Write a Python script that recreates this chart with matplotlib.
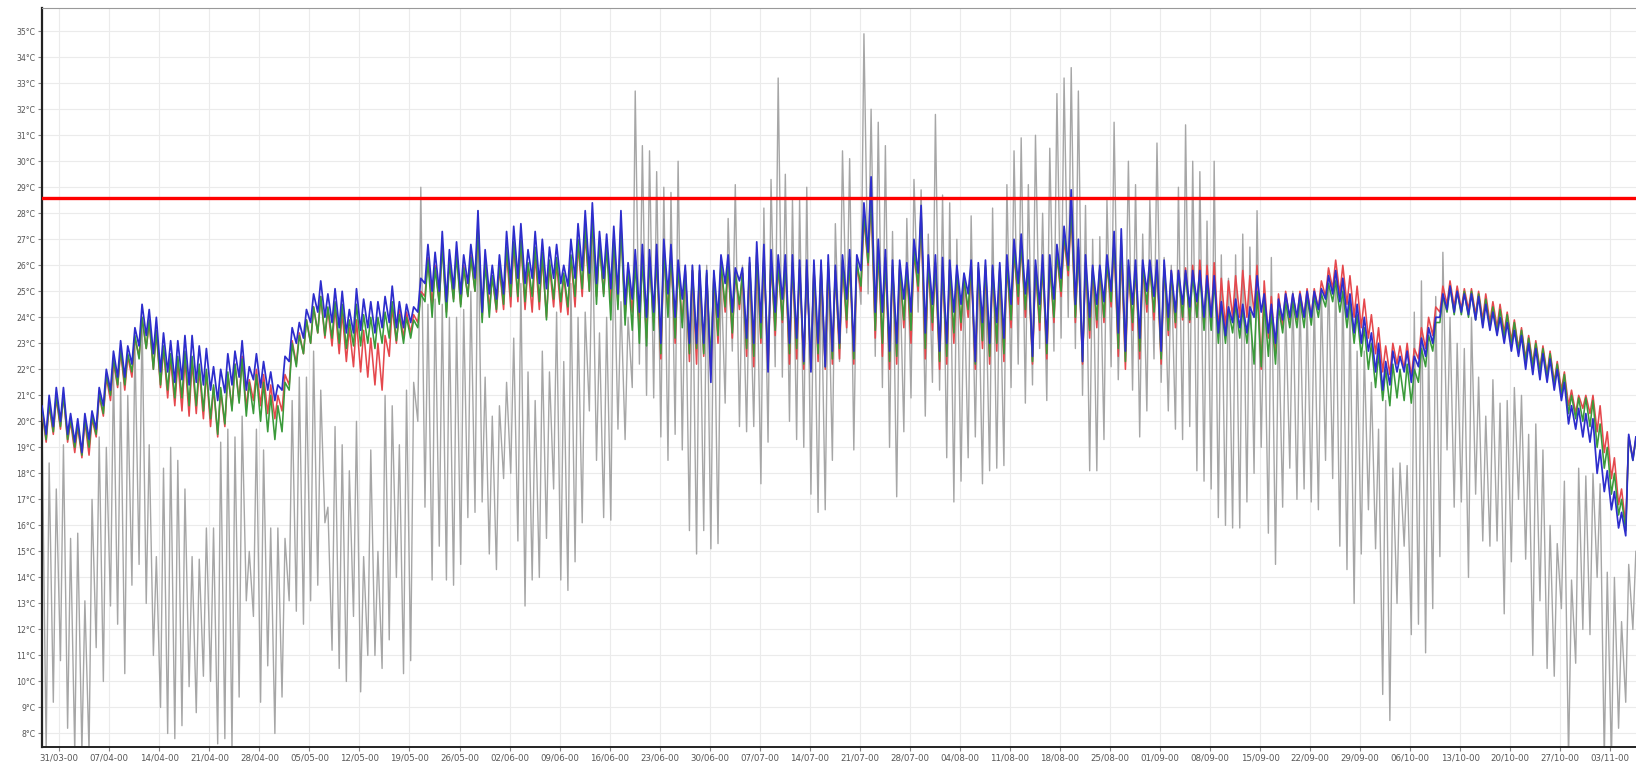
import pandas as pd
import numpy as np
import matplotlib
matplotlib.use('Agg')
import matplotlib.pyplot as plt
import matplotlib.dates as mdates

# one value per day, starting 28/03/2000 (lows ~04:00, highs ~14:00)
first_day = '2000-03-28'

outdoor_low = [
    12.0, 7.3, 9.2, 10.8, 8.2, 7.3, 7.3,
    7.3, 11.3, 10.0, 12.9, 12.2, 10.3, 13.7,
    14.5, 13.0, 11.0, 9.0, 8.0, 7.8, 8.3,
    9.8, 8.8, 10.2, 10.0, 7.6, 7.8, 7.4,
    9.4, 13.1, 12.5, 9.2, 10.6, 8.0, 9.4,
    13.1, 12.7, 12.2, 13.1, 13.7, 16.1, 11.2,
    10.5, 10.0, 12.5, 9.6, 11.0, 11.0, 10.5,
    11.6, 14.0, 10.3, 10.8, 20.0, 16.7, 13.9,
    15.2, 13.9, 13.7, 14.5, 16.3, 16.5, 16.9,
    14.9, 14.3, 17.8, 18.0, 15.4, 12.9, 13.9,
    14.0, 15.5, 17.4, 13.9, 13.5, 14.6, 16.1,
    20.4, 18.5, 16.3, 16.2, 19.7, 19.3, 21.3,
    22.2, 21.0, 20.9, 19.4, 18.5, 19.5, 18.9,
    15.8, 14.9, 15.8, 15.1, 15.3, 20.7, 22.7,
    19.8, 19.6, 19.8, 17.6, 19.2, 22.1, 21.7,
    20.0, 19.3, 19.0, 17.2, 16.5, 16.6, 18.5,
    22.3, 23.4, 18.9, 24.5, 24.9, 22.5, 21.3,
    19.0, 17.1, 19.6, 20.9, 24.2, 20.2, 21.5,
    21.2, 18.6, 16.9, 17.7, 18.6, 19.4, 17.6,
    18.1, 18.2, 18.3, 21.3, 22.2, 20.7, 21.4,
    22.8, 20.8, 22.7, 23.2, 24.0, 22.8, 21.0,
    18.1, 18.1, 19.3, 22.1, 21.6, 23.0, 21.2,
    19.4, 20.4, 22.4, 21.5, 20.4, 19.7, 19.3,
    19.8, 18.1, 17.7, 17.4, 16.3, 16.0, 15.9,
    15.9, 16.9, 18.0, 19.0, 15.7, 14.5, 16.7,
    18.2, 17.0, 17.4, 16.9, 16.6, 18.5, 17.8,
    15.2, 14.3, 13.0, 14.9, 16.6, 15.1, 9.5,
    8.5, 13.0, 15.2, 11.8, 12.2, 11.1, 12.8,
    14.8, 18.9, 16.7, 16.9, 14.0, 17.2, 15.4,
    15.2, 15.4, 12.6, 14.6, 17.0, 14.7, 11.0,
    13.1, 10.5, 10.2, 12.8, 7.0, 10.7, 12.0,
    11.8, 14.0, 7.0, 7.0, 8.2, 9.2, 12.0,
]
outdoor_high = [
    20.0, 18.4, 17.4, 19.1, 15.5, 15.7, 13.1,
    17.0, 19.4, 19.0, 22.0, 21.5, 21.0, 23.0,
    24.0, 19.1, 14.8, 18.2, 19.0, 18.5, 17.4,
    14.8, 14.7, 15.9, 15.9, 19.2, 19.7, 19.4,
    20.2, 15.0, 19.7, 18.9, 15.9, 15.9, 15.5,
    20.8, 21.7, 21.7, 22.7, 21.2, 16.7, 19.8,
    19.1, 18.1, 20.0, 14.8, 18.9, 15.0, 21.0,
    20.6, 19.1, 21.2, 21.5, 29.0, 24.5, 24.7,
    24.5, 24.0, 24.0, 24.3, 25.0, 28.1, 21.7,
    20.2, 20.6, 21.5, 23.2, 25.3, 21.9, 20.8,
    22.7, 21.9, 24.2, 22.3, 25.3, 24.0, 24.2,
    27.5, 23.4, 24.0, 26.8, 24.6, 24.0, 32.7,
    30.6, 30.4, 29.6, 29.0, 28.8, 30.0, 26.0,
    26.0, 25.8, 26.0, 25.8, 25.8, 27.8, 29.1,
    26.0, 26.0, 26.2, 28.2, 29.3, 33.2, 29.5,
    28.5, 28.5, 29.0, 26.0, 25.8, 26.0, 27.6,
    30.4, 30.1, 26.4, 34.9, 32.0, 31.5, 30.6,
    27.3, 26.0, 27.8, 29.3, 28.9, 27.2, 31.8,
    28.7, 28.4, 27.0, 25.5, 27.9, 26.0, 25.8,
    28.2, 26.0, 29.1, 30.4, 30.9, 29.1, 31.0,
    28.0, 30.5, 32.6, 33.2, 33.6, 32.7, 28.3,
    27.0, 27.1, 28.5, 31.5, 26.2, 30.0, 29.1,
    27.2, 28.5, 30.7, 26.3, 26.0, 29.0, 31.4,
    30.0, 29.6, 27.7, 30.0, 26.4, 25.5, 26.4,
    27.2, 26.7, 28.1, 25.0, 26.3, 24.0, 24.4,
    25.0, 24.8, 24.5, 24.8, 25.0, 25.8, 25.8,
    25.5, 24.6, 22.7, 22.7, 21.5, 19.7, 20.8,
    18.2, 18.4, 18.3, 24.2, 25.4, 23.0, 24.8,
    26.5, 24.0, 23.0, 22.8, 24.0, 21.7, 20.2,
    21.6, 20.7, 20.8, 21.3, 21.0, 19.5, 19.9,
    18.9, 16.0, 15.3, 17.7, 13.9, 18.2, 17.9,
    18.0, 17.6, 14.2, 14.0, 12.3, 14.5, 15.0,
]

red_low = [
    19.3, 19.2, 19.5, 19.7, 19.2, 18.8, 18.6,
    18.7, 19.4, 20.2, 20.8, 21.3, 21.2, 21.7,
    22.5, 22.8, 22.0, 21.3, 20.9, 20.6, 20.4,
    20.2, 20.3, 20.1, 19.8, 19.4, 19.8, 20.5,
    20.8, 20.5, 20.8, 20.6, 20.3, 20.1, 20.4,
    21.4, 22.2, 22.6, 23.0, 23.4, 23.2, 22.9,
    22.6, 22.3, 22.1, 21.9, 21.7, 21.4, 21.2,
    22.5, 23.0, 23.2, 23.4, 23.8, 24.8, 24.5,
    24.6, 24.2, 24.7, 24.5, 24.8, 25.0, 24.0,
    24.3, 24.2, 24.3, 24.4, 24.6, 24.3, 24.2,
    24.3, 24.0, 24.4, 24.2, 24.1, 24.4, 24.8,
    25.0, 24.8, 24.9, 24.6, 24.5, 24.1, 24.2,
    23.6, 23.2, 23.8, 22.4, 24.2, 23.0, 23.8,
    22.3, 22.2, 22.5, 21.8, 23.0, 24.2, 23.2,
    24.3, 22.5, 22.1, 23.0, 22.0, 23.3, 23.8,
    22.2, 22.4, 22.0, 22.0, 22.3, 22.0, 22.2,
    22.4, 23.6, 22.2, 25.0, 26.0, 23.2, 22.5,
    22.0, 22.2, 23.6, 23.0, 25.0, 22.4, 23.5,
    22.0, 22.2, 23.0, 23.5, 24.0, 22.0, 22.8,
    22.2, 22.7, 22.3, 23.6, 24.5, 24.0, 22.2,
    23.5, 22.4, 23.8, 24.8, 25.6, 23.8, 22.2,
    23.2, 23.6, 23.8, 24.4, 22.5, 22.0, 23.5,
    22.4, 24.2, 23.9, 22.2, 23.3, 23.6, 23.9,
    23.8, 24.0, 23.6, 23.8, 23.5, 23.6, 24.0,
    24.0, 24.0, 24.2, 22.0, 23.2, 22.6, 23.6,
    23.9, 23.9, 24.0, 24.0, 24.3, 24.8, 25.1,
    24.9, 24.5, 24.0, 23.6, 23.2, 22.6, 21.9,
    21.8, 22.2, 22.0, 21.7, 22.4, 22.8, 23.3,
    24.2, 24.5, 24.4, 24.3, 24.3, 24.1, 23.9,
    23.8, 23.6, 23.4, 23.1, 22.8, 22.4, 22.2,
    22.0, 21.8, 21.5, 21.2, 20.6, 20.3, 20.5,
    20.3, 19.6, 18.8, 17.8, 16.8, 16.0, 18.6,
]
red_high = [
    20.4, 20.6, 20.9, 21.0, 20.0, 19.8, 20.0,
    20.1, 21.0, 21.7, 22.3, 22.7, 22.5, 23.2,
    24.0, 23.8, 23.4, 22.8, 22.4, 22.3, 22.4,
    22.3, 22.0, 21.9, 21.3, 21.2, 21.8, 22.2,
    22.5, 21.6, 22.0, 21.8, 21.4, 21.0, 21.8,
    23.1, 23.4, 23.9, 24.4, 24.8, 24.3, 24.4,
    24.2, 23.6, 23.9, 23.5, 23.2, 23.0, 23.3,
    24.4, 24.3, 24.2, 24.1, 25.0, 26.3, 26.0,
    26.8, 26.2, 26.5, 26.0, 26.4, 27.6, 26.2,
    25.6, 25.9, 26.5, 26.8, 26.9, 26.0, 26.4,
    26.3, 26.0, 26.1, 25.6, 26.3, 26.8, 27.2,
    27.7, 26.8, 26.7, 27.0, 27.6, 25.8, 26.2,
    26.4, 26.2, 26.3, 26.5, 26.4, 25.9, 25.8,
    25.8, 25.7, 25.6, 25.6, 26.0, 26.0, 25.7,
    25.7, 26.0, 26.4, 26.3, 26.2, 26.0, 26.0,
    26.0, 25.9, 25.9, 25.9, 25.9, 26.0, 25.8,
    26.1, 26.2, 26.0, 27.8, 28.5, 26.6, 26.2,
    25.9, 25.9, 25.8, 26.5, 27.8, 26.0, 26.0,
    25.9, 25.8, 25.7, 25.5, 25.9, 25.8, 25.9,
    25.8, 25.8, 26.0, 26.5, 26.8, 25.9, 25.9,
    26.0, 26.0, 26.4, 27.0, 28.0, 26.6, 26.0,
    25.8, 25.8, 26.0, 26.8, 26.8, 25.9, 25.9,
    25.9, 26.0, 26.0, 26.0, 25.8, 25.8, 25.9,
    26.0, 26.2, 26.0, 26.1, 25.5, 25.4, 25.6,
    25.8, 25.6, 26.0, 25.4, 24.8, 24.9, 25.0,
    24.9, 25.0, 25.1, 25.1, 25.4, 25.9, 26.2,
    26.0, 25.6, 25.2, 24.7, 24.1, 23.6, 22.9,
    23.0, 22.9, 23.0, 22.8, 23.6, 24.0, 24.4,
    25.2, 25.4, 25.2, 25.1, 25.1, 25.0, 24.9,
    24.6, 24.5, 24.2, 23.9, 23.6, 23.3, 23.1,
    22.9, 22.7, 22.3, 21.9, 21.2, 21.0, 21.0,
    21.0, 20.6, 19.6, 18.6, 17.4, 19.4, 19.3,
]

green_low = [
    19.4, 19.3, 19.6, 19.8, 19.3, 19.0, 18.7,
    19.0, 19.5, 20.3, 21.0, 21.4, 21.4, 21.9,
    22.4, 22.8, 22.0, 21.4, 21.2, 20.9, 20.9,
    20.6, 20.6, 20.4, 20.1, 19.5, 19.9, 20.4,
    20.7, 20.2, 20.3, 20.0, 19.6, 19.3, 19.6,
    21.2, 22.1, 22.6, 23.0, 23.4, 23.3, 23.2,
    23.0, 22.8, 22.9, 22.9, 23.0, 22.8, 23.0,
    23.2, 23.1, 23.0, 23.2, 23.6, 24.6, 24.0,
    24.5, 24.0, 24.6, 24.4, 24.8, 25.0, 23.8,
    24.0, 24.3, 24.5, 24.8, 24.8, 24.6, 24.8,
    24.6, 23.9, 24.7, 24.6, 24.4, 24.8, 25.1,
    25.0, 24.5, 24.8, 23.9, 24.3, 23.7, 23.5,
    23.0, 22.9, 23.5, 22.6, 24.0, 23.2, 23.6,
    22.6, 22.8, 22.6, 22.3, 23.3, 24.4, 23.4,
    24.5, 22.8, 22.5, 23.2, 22.3, 23.5, 23.9,
    22.6, 22.8, 22.2, 22.0, 22.6, 22.1, 22.4,
    22.8, 23.9, 22.4, 25.2, 26.1, 23.5, 23.0,
    22.3, 22.5, 23.9, 23.5, 25.2, 22.8, 23.8,
    22.3, 22.5, 23.4, 23.8, 24.3, 22.2, 23.1,
    22.5, 23.0, 22.6, 23.9, 24.8, 24.3, 22.3,
    23.8, 22.6, 24.0, 25.0, 25.8, 24.0, 22.3,
    23.5, 23.9, 24.0, 24.6, 22.8, 22.3, 23.8,
    22.7, 24.5, 24.2, 22.4, 23.5, 23.8, 24.0,
    23.9, 24.0, 23.5, 23.5, 23.0, 23.0, 23.4,
    23.2, 23.0, 22.2, 22.1, 22.5, 22.2, 23.4,
    23.6, 23.6, 23.6, 23.7, 24.0, 24.4, 24.6,
    24.2, 23.6, 23.0, 22.5, 22.0, 21.3, 20.8,
    20.6, 20.9, 20.8, 20.7, 21.5, 22.1, 22.7,
    23.8, 24.2, 24.1, 24.1, 24.0, 23.9, 23.7,
    23.6, 23.4, 23.2, 22.9, 22.7, 22.3, 22.1,
    21.9, 21.7, 21.4, 21.0, 20.3, 20.1, 20.0,
    19.8, 19.0, 18.2, 17.2, 16.4, 15.8, 18.5,
]
green_high = [
    20.5, 20.7, 21.0, 21.0, 20.1, 19.9, 20.1,
    20.2, 21.1, 21.8, 22.4, 22.8, 22.6, 23.3,
    24.0, 23.9, 23.5, 22.9, 22.6, 22.5, 22.7,
    22.5, 22.2, 22.0, 21.4, 21.3, 21.9, 22.2,
    22.4, 21.5, 21.8, 21.5, 21.0, 20.6, 21.5,
    23.0, 23.3, 23.9, 24.4, 24.8, 24.4, 24.6,
    24.5, 23.9, 24.5, 24.1, 24.0, 24.0, 24.2,
    24.6, 24.1, 24.0, 23.9, 24.9, 26.2, 25.9,
    26.8, 26.1, 26.4, 25.9, 26.3, 27.4, 26.1,
    25.6, 26.0, 26.7, 26.9, 27.0, 26.1, 26.7,
    26.5, 26.2, 26.3, 25.7, 26.4, 27.0, 27.5,
    27.8, 26.9, 26.8, 27.0, 27.5, 25.8, 26.2,
    26.4, 26.3, 26.4, 26.6, 26.5, 26.0, 25.8,
    25.8, 25.8, 25.7, 25.6, 26.1, 26.1, 25.7,
    25.7, 26.1, 26.5, 26.4, 26.3, 26.1, 26.1,
    26.1, 25.9, 26.0, 25.9, 26.0, 26.1, 25.8,
    26.2, 26.3, 26.1, 28.0, 28.8, 26.7, 26.3,
    26.0, 26.0, 25.9, 26.6, 28.0, 26.1, 26.1,
    26.0, 25.9, 25.8, 25.5, 26.0, 25.9, 26.0,
    25.9, 25.9, 26.1, 26.6, 26.9, 26.0, 26.0,
    26.1, 26.1, 26.5, 27.2, 28.3, 26.7, 26.1,
    25.9, 25.9, 26.1, 27.0, 27.0, 26.0, 26.0,
    26.0, 26.0, 26.1, 26.0, 25.7, 25.7, 25.7,
    25.6, 25.7, 25.4, 25.4, 24.5, 24.3, 24.5,
    24.3, 24.2, 25.0, 24.6, 24.2, 24.4, 24.6,
    24.6, 24.7, 24.8, 24.8, 24.9, 25.3, 25.4,
    25.0, 24.6, 24.1, 23.6, 23.0, 22.6, 22.0,
    22.2, 22.0, 22.2, 22.0, 22.8, 23.3, 23.8,
    24.8, 25.2, 25.0, 25.0, 25.0, 24.9, 24.7,
    24.4, 24.3, 24.1, 23.8, 23.5, 23.2, 23.0,
    22.8, 22.6, 22.2, 21.8, 21.0, 20.9, 20.9,
    20.8, 19.9, 19.0, 18.0, 17.0, 19.4, 19.3,
]

blue_low = [
    19.6, 19.5, 19.8, 20.0, 19.5, 19.2, 18.8,
    19.3, 19.7, 20.6, 21.2, 21.7, 21.7, 22.2,
    22.9, 23.3, 22.6, 21.9, 21.9, 21.5, 21.6,
    21.4, 21.5, 21.4, 21.2, 20.8, 21.1, 21.4,
    21.7, 21.2, 21.6, 21.3, 21.2, 20.8, 21.2,
    22.3, 23.0, 23.2, 23.8, 24.2, 24.0, 23.8,
    23.6, 23.4, 23.4, 23.5, 23.6, 23.4, 23.6,
    23.8, 23.6, 23.6, 23.8, 24.2, 25.3, 25.0,
    25.0, 24.6, 25.1, 24.9, 25.3, 25.5, 24.2,
    24.9, 24.7, 24.9, 25.3, 25.5, 25.3, 25.5,
    25.3, 25.1, 25.5, 25.3, 25.2, 25.5, 25.8,
    25.7, 25.3, 25.5, 25.1, 24.9, 24.5, 24.7,
    24.2, 24.0, 24.2, 23.0, 24.9, 24.0, 24.7,
    23.0, 23.0, 23.0, 21.5, 24.0, 25.3, 24.2,
    25.4, 23.2, 23.0, 23.8, 21.9, 24.2, 24.7,
    23.0, 23.2, 22.3, 21.9, 23.0, 22.1, 22.7,
    23.0, 24.7, 22.7, 25.8, 26.5, 24.2, 24.2,
    22.7, 23.0, 24.7, 24.2, 25.7, 23.4, 24.5,
    22.7, 23.0, 24.2, 24.5, 24.9, 22.3, 23.8,
    23.0, 23.8, 23.2, 24.5, 25.3, 24.9, 22.5,
    24.5, 23.0, 24.7, 25.5, 26.0, 24.5, 22.3,
    24.0, 24.5, 24.6, 25.0, 23.4, 22.7, 24.5,
    23.2, 25.0, 24.8, 22.7, 24.0, 24.2, 24.5,
    24.4, 24.6, 24.0, 24.0, 23.4, 23.3, 23.8,
    23.6, 23.4, 24.0, 24.2, 23.4, 23.0, 23.9,
    24.0, 24.0, 24.0, 24.0, 24.3, 24.7, 24.9,
    24.6, 24.0, 23.4, 23.0, 22.7, 21.9, 21.2,
    21.4, 21.9, 21.9, 21.5, 22.1, 22.5, 23.0,
    24.0, 24.3, 24.2, 24.2, 24.1, 23.9, 23.6,
    23.5, 23.3, 23.0, 22.7, 22.5, 22.0, 21.8,
    21.6, 21.5, 21.2, 20.8, 19.9, 19.7, 19.4,
    19.2, 18.0, 17.3, 16.6, 15.9, 15.6, 18.5,
]
blue_high = [
    20.6, 21.0, 21.3, 21.3, 20.3, 20.1, 20.3,
    20.4, 21.3, 22.0, 22.7, 23.1, 22.9, 23.6,
    24.5, 24.3, 24.0, 23.4, 23.1, 23.1, 23.3,
    23.3, 22.9, 22.8, 22.1, 22.0, 22.6, 22.7,
    23.1, 22.1, 22.6, 22.3, 21.9, 21.4, 22.5,
    23.6, 23.8, 24.3, 24.9, 25.4, 24.9, 25.1,
    25.0, 24.3, 25.1, 24.7, 24.6, 24.6, 24.8,
    25.2, 24.6, 24.5, 24.4, 25.5, 26.8, 26.5,
    27.3, 26.6, 26.9, 26.4, 26.8, 28.1, 26.6,
    26.0, 26.4, 27.3, 27.5, 27.6, 26.6, 27.3,
    27.0, 26.7, 26.8, 26.0, 27.0, 27.6, 28.1,
    28.4, 27.3, 27.2, 27.5, 28.1, 26.1, 26.6,
    26.8, 26.6, 26.8, 27.0, 26.8, 26.2, 26.0,
    26.0, 26.0, 25.8, 25.8, 26.4, 26.4, 25.9,
    25.9, 26.3, 26.9, 26.8, 26.6, 26.4, 26.4,
    26.4, 26.2, 26.2, 26.2, 26.2, 26.4, 26.0,
    26.4, 26.6, 26.4, 28.4, 29.4, 27.0, 26.6,
    26.2, 26.2, 26.1, 27.0, 28.3, 26.4, 26.4,
    26.3, 26.2, 26.0, 25.7, 26.2, 26.1, 26.2,
    26.0, 26.1, 26.4, 27.0, 27.2, 26.2, 26.2,
    26.4, 26.4, 26.8, 27.5, 28.9, 27.0, 26.4,
    26.0, 26.0, 26.4, 27.3, 27.4, 26.2, 26.2,
    26.2, 26.2, 26.2, 26.2, 25.8, 25.8, 25.8,
    25.8, 25.8, 25.6, 25.6, 24.6, 24.4, 24.7,
    24.5, 24.4, 25.6, 24.9, 24.5, 24.7, 24.9,
    24.9, 24.9, 25.0, 25.0, 25.1, 25.6, 25.8,
    25.5, 24.9, 24.5, 24.0, 23.4, 23.0, 22.3,
    22.7, 22.5, 22.7, 22.5, 23.2, 23.6, 24.0,
    24.9, 25.2, 25.0, 24.9, 24.9, 24.8, 24.5,
    24.2, 24.0, 23.8, 23.5, 23.3, 23.0, 22.8,
    22.6, 22.4, 22.0, 21.5, 20.6, 20.5, 20.3,
    20.1, 18.9, 18.1, 17.3, 16.5, 19.5, 19.4,
]

threshold = 28.6
week_ticks = pd.date_range('2000-03-31', '2000-11-03', freq='7D')
y_ticks = list(range(8, 36))

days = pd.date_range(first_day, periods=len(outdoor_low), freq='D')


def daily_line(lows, highs):
    t = []
    v = []
    for d, lo, hi in zip(days, lows, highs):
        t.append(d + pd.Timedelta(hours=4))
        v.append(lo)
        t.append(d + pd.Timedelta(hours=14))
        v.append(hi)
    return t, v


fig = plt.figure(figsize=(16.36, 7.67), dpi=100, facecolor='white')
ax = fig.add_axes([41.7 / 1636, 20 / 767, 1 - 41.7 / 1636, (747 - 8.3) / 767])

t, v = daily_line(outdoor_low, outdoor_high)
ax.plot(t, v, color='#a6a6a6', lw=1.0, zorder=2)
t, v = daily_line(red_low, red_high)
ax.plot(t, v, color='#e5484d', lw=1.15, zorder=3)
t, v = daily_line(green_low, green_high)
ax.plot(t, v, color='#3a9a3a', lw=1.15, zorder=4)
t, v = daily_line(blue_low, blue_high)
ax.plot(t, v, color='#2d2dcc', lw=1.25, zorder=5)

ax.axhline(threshold, color='#ff0000', lw=2.4, zorder=6)

ax.set_xlim(pd.Timestamp('2000-03-28 13:00'), pd.Timestamp('2000-11-06 14:30'))
ax.set_ylim(7.48, 35.88)

ax.set_xticks(week_ticks)
ax.xaxis.set_major_formatter(mdates.DateFormatter('%d/%m-%y'))
ax.set_yticks(y_ticks)
ax.set_yticklabels([f'{y}°C' for y in y_ticks])

ax.grid(True, color='#ebebeb', lw=0.8, zorder=0)
ax.set_axisbelow(True)
ax.tick_params(axis='x', labelsize=6.2, length=3, color='#888888', labelcolor='#555555', pad=2)
ax.tick_params(axis='y', labelsize=5.6, length=3, color='#888888', labelcolor='#555555', pad=1.5)

ax.spines['left'].set_linewidth(1.6)
ax.spines['left'].set_color('#222222')
ax.spines['bottom'].set_linewidth(1.4)
ax.spines['bottom'].set_color('#222222')
ax.spines['top'].set_color('#999999')
ax.spines['top'].set_linewidth(0.8)
ax.spines['right'].set_visible(False)

fig.savefig('out.png', dpi=100, facecolor='white')
